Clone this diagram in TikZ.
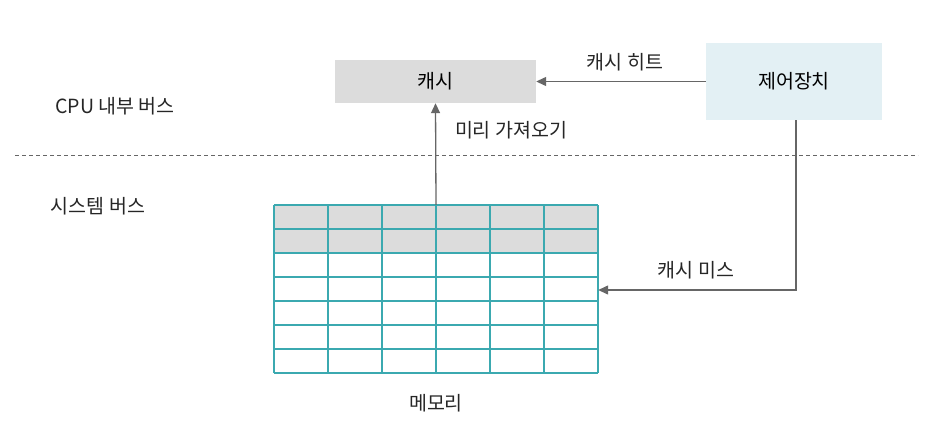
\documentclass[tikz,border=0pt]{standalone}
\usepackage{fontspec}
\newfontfamily\kr{Noto Sans CJK KR}
\usetikzlibrary{arrows.meta}
\definecolor{cgray}{HTML}{DCDCDC}
\definecolor{cblue}{HTML}{E3F0F4}
\definecolor{teal2}{HTML}{3BA9B0}
\definecolor{lgray}{HTML}{666666}
\begin{document}
\begin{tikzpicture}[x=1pt,y=-1pt,font=\kr\fontsize{19.5}{22}\selectfont,
  box/.style={draw=none,inner sep=0pt},
  arr/.style={draw=lgray,line width=1.3pt,-{Triangle[length=10pt,width=9pt]}},
  lbl/.style={text=black!85}]
\useasboundingbox (0,0) rectangle (934,432);
\fill[white] (0,0) rectangle (934,432);
\node[box,fill=cgray,minimum width=201pt,minimum height=43pt] (cache) at (435.5,81.5) {캐시};
\node[box,fill=cblue,minimum width=176pt,minimum height=77pt] (ctrl) at (794,81.5) {제어장치};
\draw[dashed,lgray,line width=1pt,dash pattern=on 4pt off 3pt] (15,155) -- (918,155);
\node[lbl] (cpu) at (115,106) {CPU 내부 버스};
\node[lbl] (sys) at (98,206) {시스템 버스};
\fill[cgray] (274,205) rectangle (598,253);
\foreach \i in {0,...,7} \draw[teal2,line width=1.3pt] (274,205+24*\i) -- (598,205+24*\i);
\foreach \i in {0,...,6} \draw[teal2,line width=1.3pt] (274+54*\i,205) -- (274+54*\i,373);
\node[box,minimum width=324pt,minimum height=168pt] (grid) at (436,289) {};
\node[lbl] (memlbl) at (436,403) {메모리};
\draw[arr] (ctrl.west) -- (cache.east);
\node[lbl] (hit) at (625,62) {캐시 히트};
\draw[arr] (grid.north) -- (cache.south);
\node[lbl] (pre) at (511,130) {미리 가져오기};
\coordinate (corner) at (796,290);
\draw[arr] (ctrl.south -| corner) -- (corner) -- (grid.east |- corner);
\node[lbl] (miss) at (696,270) {캐시 미스};
\end{tikzpicture}
\end{document}
